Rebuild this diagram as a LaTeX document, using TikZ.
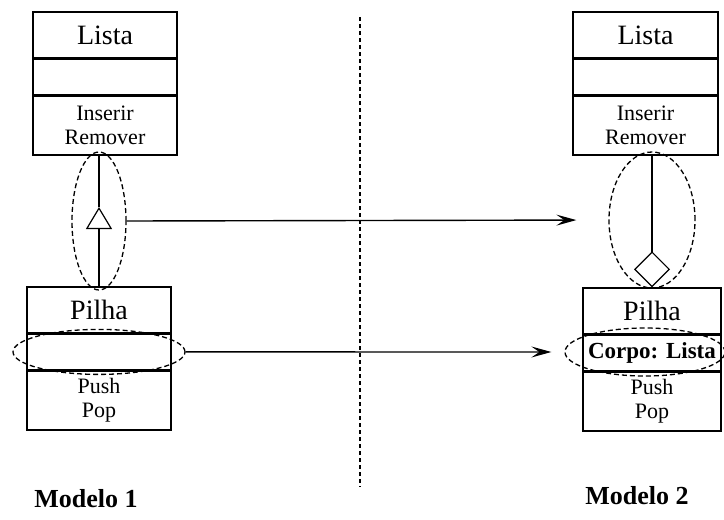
\documentclass[tikz,border=0pt]{standalone}
\usepackage{fontspec}
\setmainfont{Liberation Serif}
\usetikzlibrary{positioning,shapes.geometric,arrows.meta}

\begin{document}
\begin{tikzpicture}[x=1pt, y=-1pt,
    compart/.style={draw, line width=1.4pt, rectangle, inner sep=0pt, align=center},
    namepart/.style={compart, minimum height=46pt, font=\fontsize{28}{30}\selectfont},
    attrpart/.style={compart, minimum height=35pt, font=\bfseries\fontsize{23}{25}\selectfont},
    oppart/.style={compart, minimum height=59pt, font=\fontsize{22}{24}\selectfont},
    selection/.style={draw, ellipse, dash pattern=on 5pt off 3pt, line width=1.3pt, inner sep=0pt},
    link/.style={line width=1.2pt},
    mapto/.style={line width=1.4pt, -{Stealth[length=20pt,width=11pt,inset=8pt]}},
    caption/.style={font=\bfseries\fontsize{26}{28}\selectfont}]
    \useasboundingbox (0,0) rectangle (724,520);
    \clip (0,0) rectangle (724,520);

    % Modelo 1
    \node[namepart, minimum width=144pt] (lista1) at (105,35) {Lista};
    \node[attrpart, minimum width=144pt, below=0pt of lista1] (lista1a) {};
    \node[oppart, minimum width=144pt, below=0pt of lista1a] (lista1o) {Inserir\\Remover};

    \node[namepart, minimum width=144pt] (pilha1) at (99,310) {Pilha};
    \node[attrpart, minimum width=144pt, below=0pt of pilha1] (pilha1a) {};
    \node[oppart, minimum width=144pt, below=0pt of pilha1a] (pilha1o) {Push\\Pop};

    \coordinate (gen1tip) at (99,207);
    \draw[link, -{Triangle[open, length=22pt, width=26pt, line width=1.2pt]}] (pilha1.north) -- (gen1tip);
    \draw[link] (gen1tip) -- (gen1tip |- lista1o.south);

    \node[selection, minimum width=54pt, minimum height=138pt] (sel1) at (99,221) {};
    \node[selection, minimum width=172pt, minimum height=45pt] (sel1a) at (pilha1a.center) {};

    % Modelo 2
    \node[namepart, minimum width=145pt] (lista2) at (645.5,35) {Lista};
    \node[attrpart, minimum width=145pt, below=0pt of lista2] (lista2a) {};
    \node[oppart, minimum width=145pt, below=0pt of lista2a] (lista2o) {Inserir\\Remover};

    \node[namepart, minimum width=138pt] (pilha2) at (652,311) {Pilha};
    \node[attrpart, minimum width=138pt, below=0pt of pilha2] (pilha2a) {Corpo: Lista};
    \node[oppart, minimum width=138pt, below=0pt of pilha2a] (pilha2o) {Push\\Pop};

    \draw[link, -{Diamond[open, length=36pt, width=36pt, line width=1.2pt]}] (pilha2.north |- lista2o.south) -- (pilha2.north);

    \node[selection, minimum width=86pt, minimum height=136pt] (sel2) at (652,220) {};
    \node[selection, minimum width=160pt, minimum height=48pt] (sel2a) at (645,352) {};

    % mapeamento
    \draw[mapto, shorten >=32pt] (sel1.east) -- (sel2.west);
    \draw[mapto, shorten >=13pt] (sel1a.east) -- (sel2a.west);

    \draw[line width=1.5pt, dash pattern=on 4pt off 3pt] (360,17) -- (360,487);

    \node[caption] (modelo1) at (86,499) {Modelo 1};
    \node[caption] (modelo2) at (637,496) {Modelo 2};
\end{tikzpicture}
\end{document}
